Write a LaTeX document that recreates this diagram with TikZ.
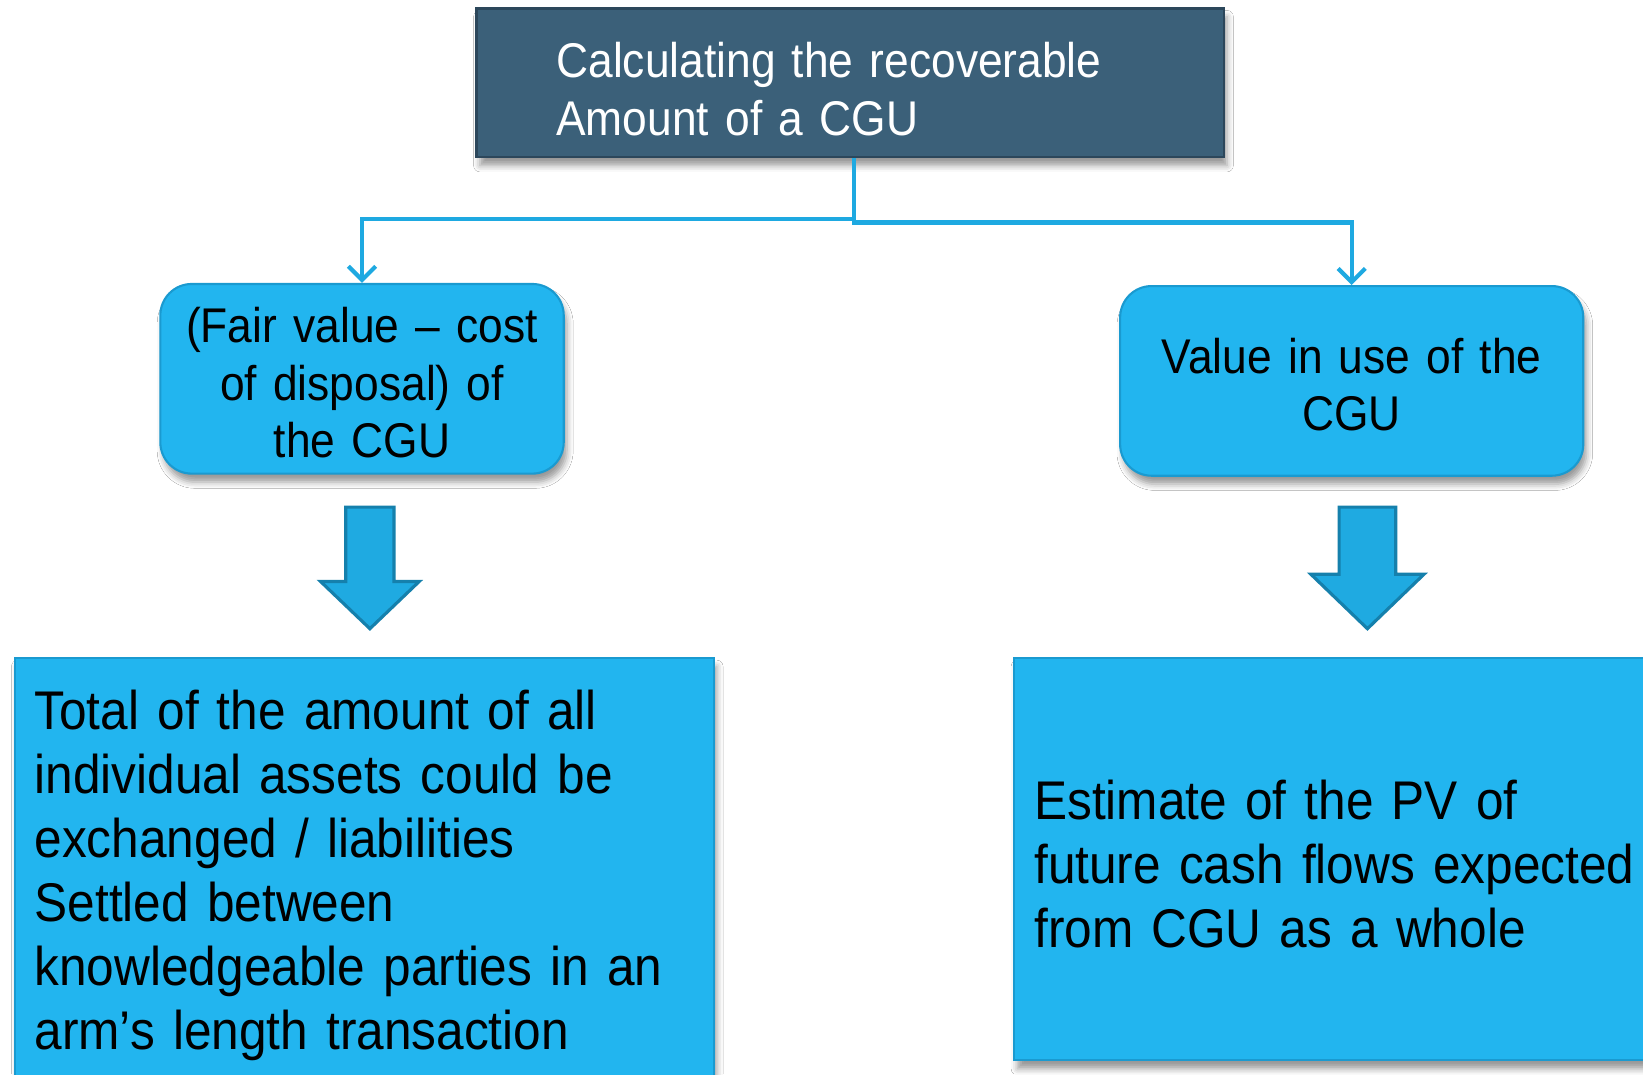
\documentclass[tikz,border=0pt]{standalone}
\usepackage{fontspec}
\setmainfont{Liberation Sans}[FakeStretch=0.91,WordSpace=0.8]
\usetikzlibrary{arrows.meta,shadows.blur,calc}

\definecolor{slate}{HTML}{3B6079}
\definecolor{slateedge}{HTML}{2C475B}
\definecolor{sky}{HTML}{22B5EF}
\definecolor{skyedge}{HTML}{1A9AD0}
\definecolor{linkblue}{HTML}{1EA9E1}
\definecolor{arrowfill}{HTML}{1FAAE1}
\definecolor{arrowedge}{HTML}{1580AC}

\begin{document}
\begin{tikzpicture}[x=1pt,y=-1pt,
  softshadow/.style={blur shadow={shadow xshift=3pt,shadow yshift=-8pt,
      shadow blur radius=6pt,shadow opacity=40}},
  headbox/.style={draw=slateedge,line width=2.5pt,fill=slate,text=white,
      softshadow,minimum width=713pt,minimum height=142pt,inner xsep=76pt,
      text width=561pt,align=left,font=\fontsize{46.5}{55}\selectfont},
  choice/.style={draw=skyedge,line width=2pt,fill=sky,rounded corners=30pt,
      softshadow,align=center,inner sep=0pt,minimum height=181pt,
      font=\fontsize{46.5}{55}\selectfont},
  detail/.style={draw=skyedge,line width=2pt,fill=sky,softshadow,align=left,
      inner xsep=19pt,font=\fontsize{52}{61}\selectfont},
  connector/.style={draw=linkblue,line width=4pt,
      -{Straight Barb[length=13pt,width=26pt]}},
  blockarrow/.style={fill=arrowfill,draw=arrowedge,line width=3pt,line join=miter},
  pics/blockdown/.style n args={3}{code={
      \draw[blockarrow] (-#1,-58) -- (#1,-58) -- (#1,#3) -- (#2,#3)
        -- (0,58) -- (-#2,#3) -- (-#1,#3) -- cycle;}}
]
\useasboundingbox (0,0) rectangle (1568,1025);
\fill[white] (0,0) rectangle (1568,1025);

% heading
\node[headbox,text height=46pt] (top) at (811.5,79)
  {Calculating the recoverable\\Amount of a CGU};

% the two measures
\node[choice,minimum width=385pt,text width=385pt,text height=41pt] (fv)
  at (345.5,361.5) {(Fair value – cost\\of disposal) of\\the CGU};
\node[choice,minimum width=442pt,text width=442pt,text height=41pt] (viu)
  at (1290,363.5) {Value in use of the\\CGU};

% explanations
\node[detail,minimum width=667pt,minimum height=405pt,text width=629pt,
      text height=48pt] (fvd) at (347.5,830.5)
  {Total of the amount of all\\individual assets could be\\exchanged / liabilities\\Settled between\\knowledgeable parties in an\\arm’s length transaction};
\node[detail,minimum width=632pt,minimum height=384pt,text width=594pt,
      text height=47pt] (viud) at (1284,820)
  {Estimate of the PV of\\future cash flows expected\\from CGU as a whole};

% elbow connectors from the heading
\draw[connector] ([xshift=3.5pt]top.south) -- ++(0,58) -| (fv.north);
\draw[connector] ([xshift=3.5pt]top.south) -- ++(0,61) -| (viu.north);

% block arrows down to the explanations
\pic at (353,542) {blockdown={23}{47}{13}};
\pic at (1305,542) {blockdown={27}{54}{6}};
\end{tikzpicture}
\end{document}
